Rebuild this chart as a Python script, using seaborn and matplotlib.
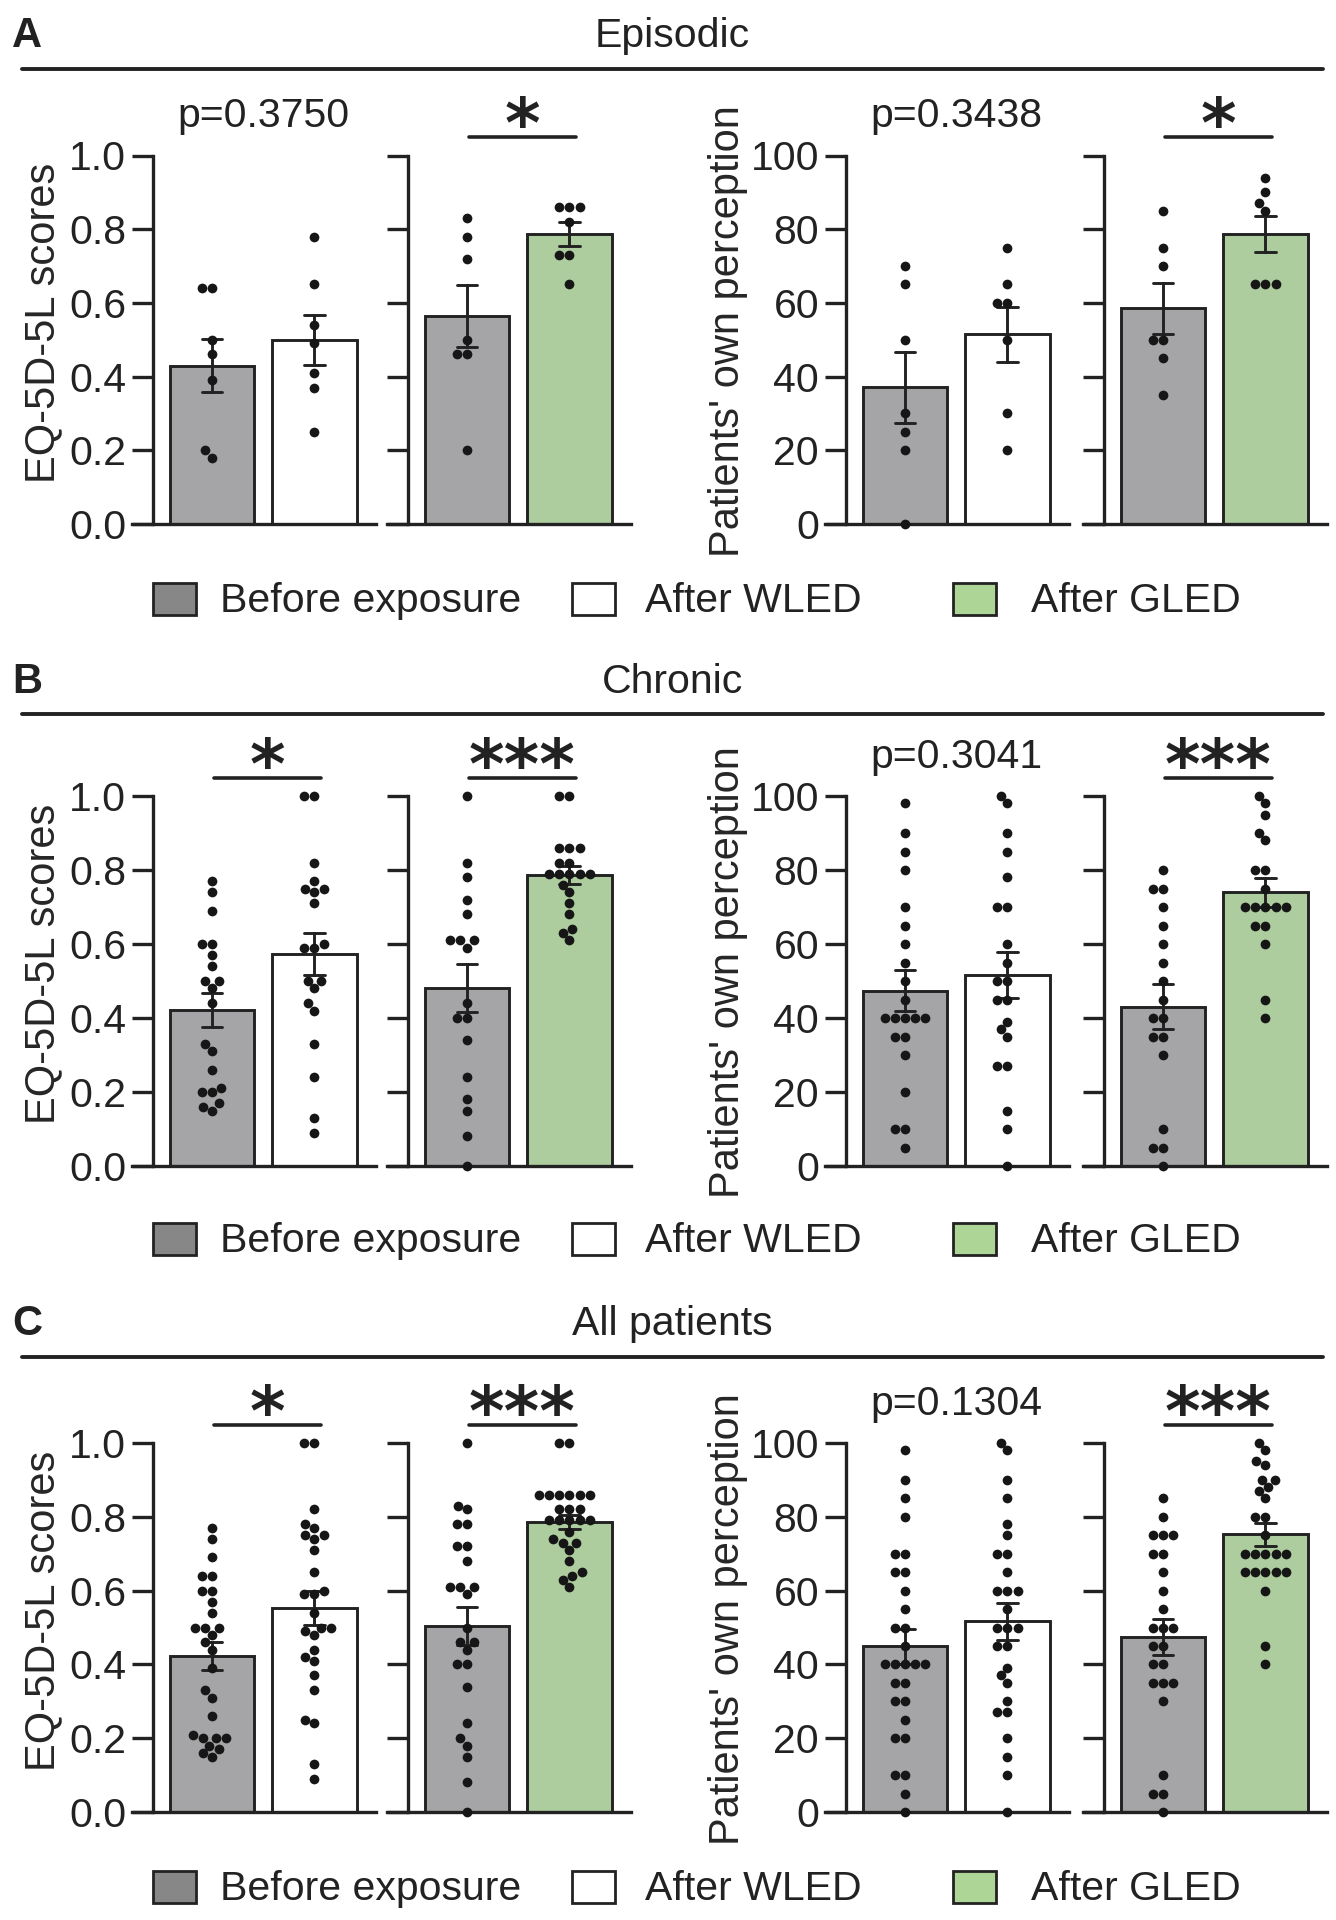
import warnings
import pandas as pd
import seaborn as sns
import matplotlib.pyplot as plt
from matplotlib.patches import Rectangle
from matplotlib.lines import Line2D

warnings.filterwarnings('ignore')

# --- data (one list per bar) ---
# A: Episodic
epi_eq_pre_w = [0.64, 0.64, 0.50, 0.46, 0.39, 0.20, 0.18]
epi_eq_wled = [0.78, 0.65, 0.54, 0.49, 0.41, 0.37, 0.25]
epi_eq_pre_g = [0.83, 0.78, 0.72, 0.50, 0.46, 0.46, 0.20]
epi_eq_gled = [0.86, 0.86, 0.86, 0.82, 0.73, 0.73, 0.65]
epi_pp_pre_w = [70, 65, 50, 30, 25, 20, 0]
epi_pp_wled = [75, 65, 60, 60, 50, 30, 20]
epi_pp_pre_g = [85, 75, 70, 50, 50, 45, 35]
epi_pp_gled = [94, 90, 87, 85, 65, 65, 65]

# B: Chronic
chr_eq_pre_w = [0.77, 0.74, 0.69, 0.60, 0.60, 0.57, 0.54, 0.50, 0.50, 0.48,
                0.44, 0.33, 0.31, 0.26, 0.21, 0.20, 0.20, 0.17, 0.16, 0.15]
chr_eq_wled = [1.0, 1.0, 0.82, 0.77, 0.75, 0.75, 0.74, 0.71, 0.60, 0.59,
               0.59, 0.50, 0.50, 0.48, 0.44, 0.42, 0.33, 0.24, 0.13, 0.09]
chr_eq_pre_g = [1.0, 0.82, 0.78, 0.72, 0.68, 0.61, 0.61, 0.61, 0.59, 0.44,
                0.40, 0.40, 0.34, 0.24, 0.18, 0.15, 0.08, 0.0]
chr_eq_gled = [1.0, 1.0, 0.86, 0.86, 0.86, 0.82, 0.82, 0.79, 0.79, 0.79,
               0.79, 0.79, 0.76, 0.74, 0.71, 0.68, 0.64, 0.63, 0.61]
chr_pp_pre_w = [98, 90, 85, 80, 70, 65, 60, 55, 50, 45, 40, 40, 40, 40, 40,
                35, 35, 30, 20, 10, 10, 5]
chr_pp_wled = [100, 98, 90, 85, 78, 70, 70, 60, 55, 50, 50, 45, 45, 39, 37,
               35, 27, 27, 15, 10, 0]
chr_pp_pre_g = [80, 75, 75, 70, 65, 60, 55, 50, 45, 40, 40, 35, 35, 30, 10,
                5, 5, 0]
chr_pp_gled = [100, 98, 95, 90, 88, 80, 80, 75, 70, 70, 70, 70, 70, 65, 65,
               60, 45, 40]

# C: All patients
all_eq_pre_w = [0.77, 0.74, 0.69, 0.64, 0.64, 0.60, 0.60, 0.57, 0.54, 0.50,
                0.50, 0.50, 0.48, 0.46, 0.44, 0.39, 0.33, 0.31, 0.26, 0.21,
                0.20, 0.20, 0.20, 0.18, 0.17, 0.16, 0.15]
all_eq_wled = [1.0, 1.0, 0.82, 0.78, 0.77, 0.75, 0.75, 0.74, 0.71, 0.65,
               0.60, 0.59, 0.59, 0.54, 0.50, 0.50, 0.49, 0.48, 0.44, 0.42,
               0.41, 0.37, 0.33, 0.25, 0.24, 0.13, 0.09]
all_eq_pre_g = [1.0, 0.83, 0.82, 0.78, 0.78, 0.72, 0.72, 0.68, 0.61, 0.61,
                0.61, 0.59, 0.50, 0.46, 0.46, 0.44, 0.40, 0.40, 0.34, 0.24,
                0.20, 0.18, 0.15, 0.08, 0.0]
all_eq_gled = [1.0, 1.0, 0.86, 0.86, 0.86, 0.86, 0.86, 0.86, 0.82, 0.82,
               0.82, 0.79, 0.79, 0.79, 0.79, 0.79, 0.76, 0.74, 0.73, 0.73,
               0.71, 0.68, 0.65, 0.64, 0.63, 0.61]
all_pp_pre_w = [98, 90, 85, 80, 70, 70, 65, 65, 60, 55, 50, 50, 45, 40, 40,
                40, 40, 40, 35, 35, 30, 30, 25, 20, 20, 10, 10, 5, 0]
all_pp_wled = [100, 98, 90, 85, 78, 75, 70, 70, 65, 60, 60, 60, 55, 50, 50,
               50, 45, 45, 39, 37, 35, 30, 27, 27, 20, 15, 10, 0]
all_pp_pre_g = [85, 80, 75, 75, 75, 70, 70, 65, 60, 55, 50, 50, 50, 45, 45,
                40, 40, 35, 35, 35, 30, 10, 5, 5, 0]
all_pp_gled = [100, 98, 95, 94, 90, 90, 88, 87, 85, 80, 80, 75, 70, 70, 70,
               70, 70, 65, 65, 65, 65, 65, 60, 45, 40]

row_titles = ['Episodic', 'Chronic', 'All patients']
row_letters = ['A', 'B', 'C']
p_labels = [['p=0.3750', '*', 'p=0.3438', '*'],
            ['*', '***', 'p=0.3041', '***'],
            ['*', '***', 'p=0.1304', '***']]
eq_ticks = [0.0, 0.2, 0.4, 0.6, 0.8, 1.0]
eq_ticklabels = ['0.0', '0.2', '0.4', '0.6', '0.8', '1.0']
pp_ticks = [0, 20, 40, 60, 80, 100]
pp_ticklabels = ['0', '20', '40', '60', '80', '100']

rows = [
    [(epi_eq_pre_w, epi_eq_wled), (epi_eq_pre_g, epi_eq_gled),
     (epi_pp_pre_w, epi_pp_wled), (epi_pp_pre_g, epi_pp_gled)],
    [(chr_eq_pre_w, chr_eq_wled), (chr_eq_pre_g, chr_eq_gled),
     (chr_pp_pre_w, chr_pp_wled), (chr_pp_pre_g, chr_pp_gled)],
    [(all_eq_pre_w, all_eq_wled), (all_eq_pre_g, all_eq_gled),
     (all_pp_pre_w, all_pp_wled), (all_pp_pre_g, all_pp_gled)],
]

BEFORE, WLED, GLED = 'Before exposure', 'After WLED', 'After GLED'
colors = {BEFORE: '#a4a4a9', WLED: '#ffffff', GLED: '#acd596'}
legend_colors = {BEFORE: '#878787', WLED: '#ffffff', GLED: '#acd596'}
INK = '#222222'

sns.set_theme(style='ticks')
plt.rcParams['font.family'] = ['Liberation Sans', 'DejaVu Sans']
plt.rcParams['text.color'] = INK
plt.rcParams['axes.edgecolor'] = INK

W, H = 1336, 1920
fig = plt.figure(figsize=(W / 100, H / 100), dpi=100)


def fx(px):
    return px / W


def fy(py):
    return 1 - py / H


ax_lefts = [132, 387, 825, 1083]
ax_width = 244
row_tops = [155.5, 796, 1443]
row_bottoms = [524, 1166, 1812]
head_line_y = [69, 714, 1357]
head_text_y = [36, 682, 1324]
legend_y = [599, 1239, 1887]


def draw_pair(ax, before, after, after_name, is_eq, sig):
    order = [BEFORE, after_name]
    df = pd.DataFrame({
        'group': [BEFORE] * len(before) + [after_name] * len(after),
        'value': list(before) + list(after),
    })
    sns.barplot(data=df, x='group', y='value', hue='group', order=order,
                hue_order=order, palette=colors, legend=False, errorbar='se',
                capsize=0.2, width=0.82, edgecolor=INK, linewidth=2.1,
                err_kws={'color': INK, 'linewidth': 2.1}, ax=ax)
    sns.swarmplot(data=df, x='group', y='value', order=order, color='#161616',
                  size=7, ax=ax)
    for c in ax.collections:
        c.set_clip_on(False)

    top = 1.0 if is_eq else 100
    ax.set_ylim(0, top)
    ax.set_xlim(-0.78, 1.6)
    ax.set_xticks([])
    ax.set_xlabel('')
    ax.set_ylabel('')
    if is_eq:
        ax.set_yticks(eq_ticks, labels=eq_ticklabels)
    else:
        ax.set_yticks(pp_ticks, labels=pp_ticklabels)
    for s in ['top', 'right']:
        ax.spines[s].set_visible(False)
    ax.spines['left'].set_position(('data', -0.58))
    ax.spines['left'].set_linewidth(2.4)
    ax.spines['bottom'].set_linewidth(2.4)
    ax.tick_params(axis='y', length=15, width=2.4, labelsize=29.5, pad=4,
                   color=INK, labelcolor=INK)
    ax.set_facecolor('none')

    tr = ax.get_xaxis_transform()
    if sig.startswith('p='):
        ax.text(0.5, 1.077, sig, transform=tr, ha='center', va='baseline',
                fontsize=29.5)
    else:
        ax.add_line(Line2D([0.02, 1.06], [1.05, 1.05], transform=tr,
                           color=INK, linewidth=2.6, clip_on=False))
        ax.text(0.54, 1.022, sig, transform=tr, ha='center', va='baseline',
                fontsize=49, family='DejaVu Sans', fontweight='bold')


for r in range(3):
    # row header
    fig.text(fx(12), fy(head_text_y[r]), row_letters[r], ha='left',
             va='center', fontsize=30, fontweight='bold')
    fig.text(fx(672), fy(head_text_y[r]), row_titles[r], ha='center',
             va='center', fontsize=29.5)
    fig.add_artist(Line2D([fx(22), fx(1323)], [fy(head_line_y[r])] * 2,
                          color=INK, linewidth=2.8))

    bottom = fy(row_bottoms[r])
    height = (row_bottoms[r] - row_tops[r]) / H
    for i in range(4):
        ax = fig.add_axes([fx(ax_lefts[i]), bottom, ax_width / W, height])
        before, after = rows[r][i]
        after_name = WLED if i % 2 == 0 else GLED
        draw_pair(ax, before, after, after_name, i < 2, p_labels[r][i])
        if i == 0:
            ax.set_ylabel('EQ-5D-5L scores', fontsize=30)
            ax.yaxis.set_label_coords(-0.283, 0.545)
        elif i == 2:
            ax.set_ylabel("Patients' own perception", fontsize=30)
            ax.yaxis.set_label_coords(-0.317, 0.524)
        else:
            ax.tick_params(axis='y', labelleft=False)

    # legend row
    ly = legend_y[r]
    for name, px0, tx0 in [(BEFORE, 153, 220), (WLED, 572, 645), (GLED, 953, 1031)]:
        fig.add_artist(Rectangle((fx(px0), fy(ly + 16)), 43 / W, 32 / H,
                                 transform=fig.transFigure,
                                 facecolor=legend_colors[name], edgecolor=INK,
                                 linewidth=2.0))
        fig.text(fx(tx0), fy(ly + 2), name, ha='left', va='center', fontsize=29.5)

fig.savefig('out.png', dpi=100)
